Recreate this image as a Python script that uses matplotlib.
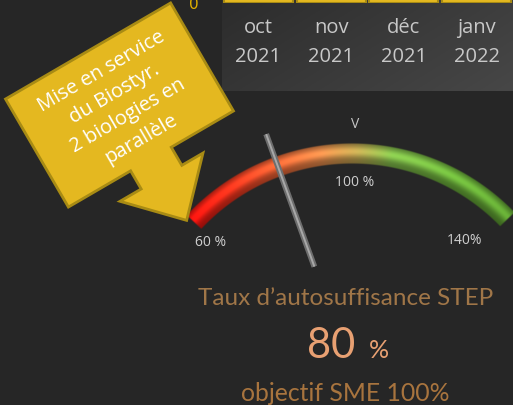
import numpy as np
import matplotlib
matplotlib.use('Agg')
import matplotlib.pyplot as plt
from matplotlib.patches import Polygon

# --- data ---
months = ["oct\n2021", "nov\n2021", "déc\n2021", "janv\n2022"]
month_values = [75, 78, 82, 80]          # bars are cut off at the top of the picture
gauge_min, gauge_mid, gauge_max = 60, 100, 140
gauge_labels = ["60 %", "100 %", "140%"]
needle_value = 80
objective = 100
callout_lines = ["Mise en service", "du Biostyr.", "2 biologies en", "parallèle"]

W, H = 513, 405
BG = '#262626'

fig = plt.figure(figsize=(W / 100, H / 100), dpi=100, facecolor=BG)
ax = fig.add_axes([0, 0, 1, 1])
ax.axis('off')

# --- top panel (lighter gradient) ---
px0, px1, py1 = 222, W, 91
U, V = np.meshgrid(np.linspace(0, 1, 200), np.linspace(0, 1, 60))
c = (44 + 18 * U + 9 * V) / 255
ax.imshow(np.dstack([c, c, c]), extent=(px0, px1, py1, 0), origin='upper',
          aspect='auto', interpolation='bilinear', zorder=0)

# --- column chart, tops cut off ---
axb = fig.add_axes([px0 / W, 1 - 3 / H, (px1 - px0) / W, 0.4])
axb.bar(range(len(months)), month_values, width=0.95, color='#e4b820',
        edgecolor='#a88b14', linewidth=1.5)
axb.set_xlim(-0.5, len(months) - 0.5)
axb.set_ylim(0, 100)
axb.set_facecolor('none')
for s in axb.spines.values():
    s.set_visible(False)
axb.set_xticks(range(len(months)))
axb.set_xticklabels(months, color='#c8c8c8', fontsize=14.5, family='Open Sans',
                    linespacing=1.6)
axb.tick_params(axis='x', length=0, pad=11)
axb.set_yticks([0])
axb.set_yticklabels(['0'], color='#e0b000', fontsize=11)
axb.tick_params(axis='y', length=0, pad=17)

# --- gauge ---
cx, cy = 352, 370
r_in, r_out = 206, 227
deg_per_unit = 80 / (gauge_max - gauge_min)


def angle(v):
    return 90 + (gauge_mid - v) * deg_per_unit


a_start, a_end = angle(gauge_min) + 7, angle(gauge_max) - 6

gx0, gx1, gy0, gy1 = 175, W, 118, 245
step = 0.5
xs = np.arange(gx0, gx1, step) + step / 2
ys = np.arange(gy0, gy1, step) + step / 2
X, Y = np.meshgrid(xs, ys)
R = np.hypot(X - cx, cy - Y)
A = np.degrees(np.arctan2(cy - Y, X - cx))
t = np.clip((a_start - A) / (a_start - a_end), 0, 1)
stops_t = [0, 0.15, 0.3, 0.42, 0.52, 0.62, 0.8, 1.0]
stops_c = np.array([(240, 20, 15), (240, 55, 30), (235, 105, 55), (230, 140, 75),
                    (190, 165, 80), (130, 190, 75), (110, 180, 60), (95, 160, 50)]) / 255
rgb = np.stack([np.interp(t, stops_t, stops_c[:, k]) for k in range(3)], axis=-1)
s = (R - r_in) / (r_out - r_in)
shade = 0.62 + 0.5 * np.exp(-((s - 0.6) / 0.28) ** 2)
rgb = np.clip(rgb * shade[..., None], 0, 1)
alpha = (np.clip((R - r_in) / 1.0, 0, 1) * np.clip((r_out - R) / 1.0, 0, 1)
         * np.clip((a_start - A) / 0.3, 0, 1) * np.clip((A - a_end) / 0.3, 0, 1))
ax.imshow(np.dstack([rgb, alpha]), extent=(gx0, gx1, gy1, gy0), origin='upper',
          aspect='auto', interpolation='bilinear', zorder=2)

# needle
na = np.radians(angle(needle_value))
nr = np.array([110, 251])
nx, ny = cx + nr * np.cos(na), cy - nr * np.sin(na)
ax.plot(nx, ny, color='#6e6e6e', lw=4.2, solid_capstyle='butt', zorder=4)
ax.plot(nx, ny, color='#a8a8a8', lw=1.4, solid_capstyle='butt', zorder=5)

# gauge labels
for lab, (lx, ly) in zip(gauge_labels, [(211, 243), (355, 183), (465, 240)]):
    ax.text(lx, ly, lab, ha='center', va='center', fontsize=10, color='#cfcfcf',
            family='Open Sans', zorder=6)
ax.text(355, 125, 'V', ha='center', va='center', fontsize=10, color='#c8c8c8',
        family='Open Sans', zorder=6)

# --- callout arrow ---
ccx, ccy, rot = 119.5, 105, 30.2
hw, hh = 95.5, 62.5
stem_w, stem_l, head_w, head_l = 23.5, 21, 48, 50
local = np.array([(-hw, -hh), (hw, -hh), (hw, hh), (stem_w, hh), (stem_w, hh + stem_l),
                  (head_w, hh + stem_l), (0, hh + stem_l + head_l),
                  (-head_w, hh + stem_l), (-stem_w, hh + stem_l), (-stem_w, hh), (-hw, hh)])
th = np.radians(rot)
eu = np.array([np.cos(th), -np.sin(th)])
ew = np.array([np.sin(th), np.cos(th)])
pts = np.outer(local[:, 0], eu) + np.outer(local[:, 1], ew) + [ccx, ccy]
ax.add_patch(Polygon(pts, closed=True, facecolor='#e4b820', edgecolor='#a88b14',
                     linewidth=2, joinstyle='miter', zorder=7))
line_gap = 26
n = len(callout_lines)
for i, line in enumerate(callout_lines):
    px, py = np.array([ccx + 2, ccy]) + (i - (n - 1) / 2) * line_gap * ew
    ax.text(px, py, line, rotation=rot, rotation_mode='anchor', ha='center',
            va='center', color='white', fontsize=14.5, family='Open Sans', zorder=8)

# --- bottom texts ---
txt_kw = dict(family=['Lato', 'DejaVu Sans'], zorder=6)
ax.text(345.5, 305, 'Taux d’autosuffisance STEP', ha='center', va='baseline',
        fontsize=17.5, color='#a07648', **txt_kw)
ax.text(355, 358, f'{needle_value:.0f}', ha='right', va='baseline', fontsize=30,
        color='#e8a072', **txt_kw)
ax.text(369, 358, '%', ha='left', va='baseline', fontsize=18, color='#e8a072', **txt_kw)
ax.text(345, 401, f'objectif SME {objective}%', ha='center', va='baseline',
        fontsize=17.8, color='#a8743e', **txt_kw)

ax.set_xlim(0, W)
ax.set_ylim(H, 0)
fig.savefig('out.png', dpi=100, facecolor=BG)
